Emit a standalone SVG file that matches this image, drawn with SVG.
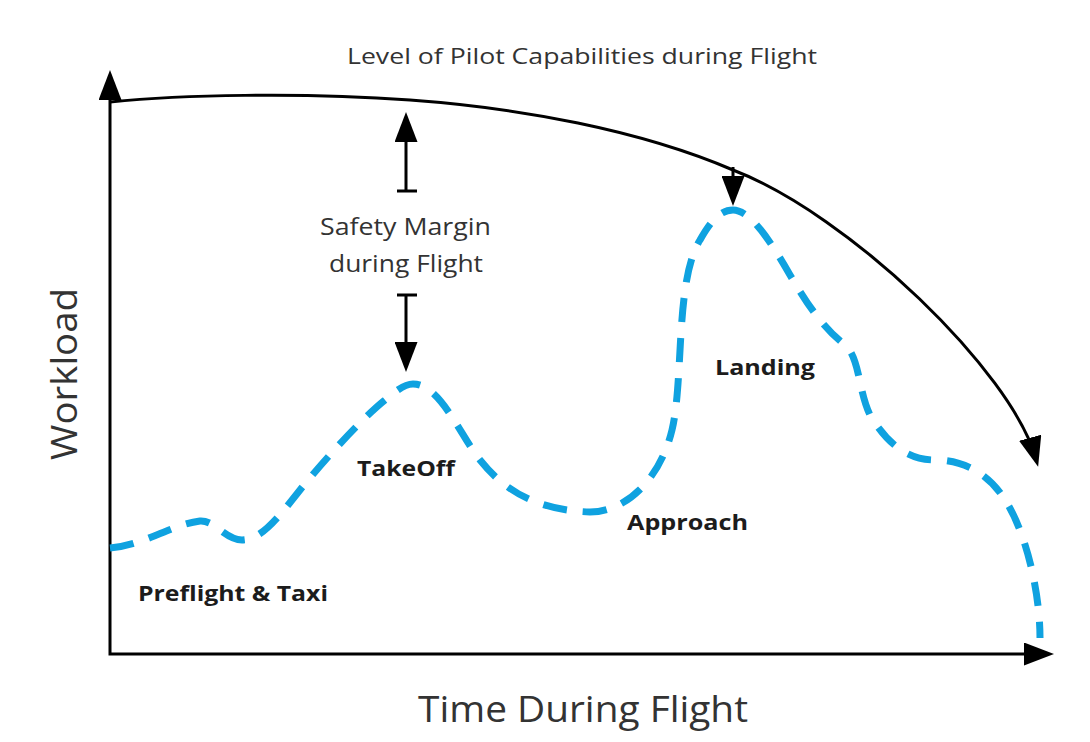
<svg xmlns="http://www.w3.org/2000/svg" width="1090" height="742" viewBox="0 0 1090 742">
<style>
.lbl{font-family:"Open Sans","Liberation Sans",Arial,sans-serif;fill:#333333}
.phase{font-family:"Open Sans","Liberation Sans",Arial,sans-serif;font-weight:bold;font-size:22px;fill:#1c1c1c}
.blk{fill:none;stroke:#000000;stroke-width:3}
.work{fill:none;stroke:#0fa2e0;stroke-width:7;stroke-dasharray:24 16}
</style>
<defs>
<marker id="ah" viewBox="0 0 30 23" refX="22" refY="11.5" markerWidth="30" markerHeight="23" markerUnits="userSpaceOnUse" orient="auto-start-reverse">
<path d="M0,0 L30,11.5 L0,23 Z" fill="#000000"/>
</marker>
</defs>
<rect width="1090" height="742" fill="#ffffff"/>
<g id="connectors">
<path id="axes" class="blk" stroke-width="3.5" d="M110,78 L110,654 L1046,654" marker-start="url(#ah)" marker-end="url(#ah)"/>
<path id="capability-curve" class="blk" d="M110,102 C180,95 300,92 410,100 C520,108 640,130 733,170 C850,215 1012,372 1036,459" marker-end="url(#ah)"/>
<path id="margin-up" class="blk" d="M397,191 L417,191 M406,191 L406,120" marker-end="url(#ah)"/>
<path id="margin-down" class="blk" d="M397,295 L417,295 M406,295 L406,364" marker-end="url(#ah)"/>
<path id="landing-arrow" class="blk" d="M733,167 L733,198" marker-end="url(#ah)"/>
</g>
<g id="workload-curve">
<path class="work" d="M110,548 C145,545 170,525 200,521 C215,520 225,540 242,540 C262,540 280,515 300,490 C320,465 360,420 385,400 C397,390 405,384 413,384 C440,384 460,435 480,460 C500,485 530,510 590,512 C625,512 660,480 672,430 C684,380 675,280 700,240 C710,222 720,210 733,210 C750,210 770,240 790,275 C805,300 820,325 845,345 C860,358 858,390 870,415 C885,440 905,460 935,460 C965,460 990,475 1005,500 C1025,530 1040,590 1040,638"/>
</g>
<g id="title">
<text class="lbl" x="347" y="64" font-size="22" textLength="470" lengthAdjust="spacingAndGlyphs">Level of Pilot Capabilities during Flight</text>
</g>
<g id="safety-margin">
<text class="lbl" x="320" y="235" font-size="23" textLength="171" lengthAdjust="spacingAndGlyphs">Safety Margin</text>
<text class="lbl" x="329" y="272" font-size="23" textLength="154" lengthAdjust="spacingAndGlyphs">during Flight</text>
</g>
<g id="y-axis-label">
<text class="lbl" transform="translate(77,460) rotate(-90)" x="0" y="0" font-size="37" textLength="172" lengthAdjust="spacingAndGlyphs">Workload</text>
</g>
<g id="x-axis-label">
<text class="lbl" x="418" y="722" font-size="37" textLength="330" lengthAdjust="spacingAndGlyphs">Time During Flight</text>
</g>
<g id="preflight">
<text class="phase" x="138" y="601" textLength="190" lengthAdjust="spacingAndGlyphs">Preflight &amp; Taxi</text>
</g>
<g id="takeoff">
<text class="phase" x="357" y="476" textLength="98" lengthAdjust="spacingAndGlyphs">TakeOff</text>
</g>
<g id="approach">
<text class="phase" x="627" y="530" textLength="121" lengthAdjust="spacingAndGlyphs">Approach</text>
</g>
<g id="landing">
<text class="phase" x="715" y="375" textLength="100" lengthAdjust="spacingAndGlyphs">Landing</text>
</g>
</svg>
